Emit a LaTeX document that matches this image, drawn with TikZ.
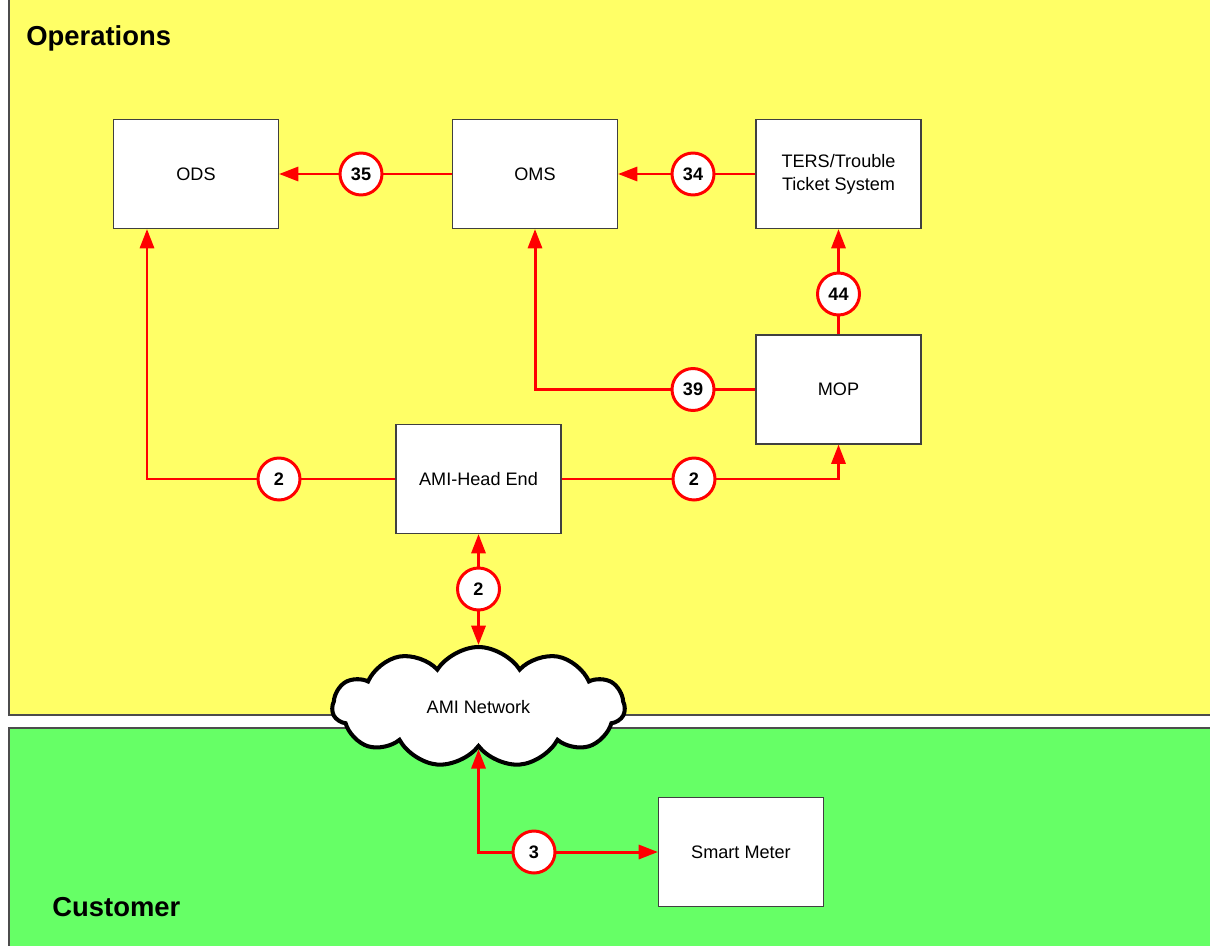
\documentclass[tikz,border=0pt]{standalone}
\usepackage{fontspec}
\setmainfont{Liberation Sans}
\usetikzlibrary{arrows.meta,shapes.symbols}

\definecolor{opsyellow}{RGB}{255,255,102}
\definecolor{custgreen}{RGB}{102,255,102}
\definecolor{linkred}{RGB}{255,0,0}

\begin{document}
\begin{tikzpicture}[x=0.02cm,y=-0.02cm,
        box/.style={draw=gray!50!black, fill=white, line width=0.6pt, minimum width=3.3cm, minimum height=2.18cm, align=center, font=\fontsize{10.3}{13}\selectfont},
        num/.style={circle, draw=linkred, fill=white, line width=1.7pt, minimum size=0.84cm, inner sep=0pt, font=\fontsize{10.3}{12}\selectfont\bfseries},
        cloudnode/.style={cloud, cloud puffs=11, cloud puff arc=115, aspect=2.4, draw=black, fill=white, line width=2.3pt, minimum width=5.85cm, minimum height=2.4cm, inner sep=0pt, font=\fontsize{10.3}{12}\selectfont},
        wire/.style={linkred, line width=1.7pt},
        link/.style={wire, -{Triangle[length=11pt,width=8pt]}},
        area/.style={draw=gray!60!black, line width=0.6pt},
        arealabel/.style={anchor=base west, inner sep=0pt, font=\fontsize{15.6}{18}\selectfont\bfseries}]
            \clip (0,0) rectangle (1210,946);

            % regions
            \filldraw[area, fill=opsyellow] (9,-10) rectangle (1220,715);
            \filldraw[area, fill=custgreen] (9,728) rectangle (1220,960);
            \node[arealabel] (ops) at (26,46) {Operations};
            \node[arealabel] (cust) at (52,916) {Customer};

            % systems
            \node[box] (ods) at (196,174) {ODS};
            \node[box] (oms) at (535,174) {OMS};
            \node[box] (ters) at (838.5,174) {TERS/Trouble\\Ticket System};
            \node[box] (mop) at (838.5,389.5) {MOP};
            \node[box] (ami) at (478.5,479) {AMI-Head End};
            \node[box] (meter) at (741,852) {Smart Meter};
            \node[cloudnode] (net) at (478.5,707) {AMI Network};

            % interface numbers
            \node[num] (n35) at (361,174) {35};
            \node[num] (n34) at (693,174) {34};
            \node[num] (n44) at (838.5,294) {44};
            \node[num] (n39) at (693,389.5) {39};
            \node[num] (n2w) at (279,479) {2};
            \node[num] (n2e) at (694,479) {2};
            \node[num] (n2s) at (478.5,589) {2};
            \node[num] (n3) at (534,852) {3};
            \coordinate (odsin) at (147,229);

            % flows
            \draw[wire] (oms.west) -- (n35);
            \draw[link] (n35) -- (ods.east);
            \draw[wire] (ters.west) -- (n34);
            \draw[link] (n34) -- (oms.east);
            \draw[wire] (mop.north) -- (n44);
            \draw[link] (n44) -- (ters.south);
            \draw[wire] (mop.west) -- (n39);
            \draw[link] (n39) -| (oms.south);
            \draw[wire] (ami.west) -- (n2w);
            \draw[link] (n2w) -| (odsin);
            \draw[wire] (ami.east) -- (n2e);
            \draw[link] (n2e) -| (mop.south);
            \draw[link] (n2s) -- (ami.south);
            \draw[link] (n2s) -- (net.north);
            \draw[link] (n3) -| (net.south);
            \draw[link] (n3) -- (meter.west);
        \end{tikzpicture}
\end{document}
